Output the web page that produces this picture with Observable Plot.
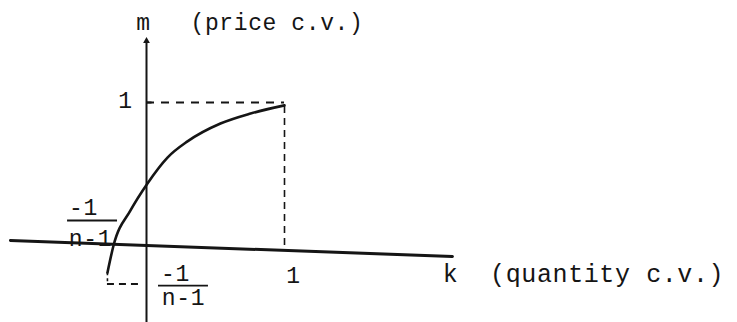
<!DOCTYPE html>
<html><head><meta charset="utf-8">
<script src="https://cdn.jsdelivr.net/npm/d3@7"></script>
<script src="https://cdn.jsdelivr.net/npm/@observablehq/plot@0.6"></script>
<style>body{margin:0;background:#fff}</style>
</head><body><div id="chart"></div>
<script>
// curve m(k): price c.v. vs quantity c.v.
const curveK = [-0.283, -0.239, -0.116, 0.007, 0.152, 0.297, 0.536, 0.754, 1.0];
const curveM = [-0.19, 0.0, 0.245, 0.434, 0.615, 0.728, 0.853, 0.923, 0.98];
// axes (the scanned horizontal axis is slightly tilted)
const xAxisK = [-0.986, 2.217];
const xAxisM = [0.035, -0.077];
const yAxisM = [-0.54, 1.43];
// reference levels
const one = 1;
const negInv = -0.27;     // -1/(n-1) level
const negInvK = -0.283;   // -1/(n-1) on k
// labels
const labels = [
  {k: -0.022, m: 1.56, t: "m", a: "middle", s: 23},
  {k: 0.319, m: 1.56, t: "(price c.v.)", a: "start", s: 23},
  {k: -0.152, m: 1.01, t: "1", a: "middle", s: 23},
  {k: 1.065, m: -0.21, t: "1", a: "middle", s: 23},
  {k: 2.203, m: -0.2, t: "k", a: "middle", s: 25},
  {k: 2.49, m: -0.2, t: "(quantity c.v.)", a: "start", s: 25},
  {k: -0.457, m: 0.266, t: "-1", a: "middle", s: 23},
  {k: -0.406, m: 0.049, t: "n-1", a: "middle", s: 23},
  {k: 0.21, m: -0.196, t: "-1", a: "middle", s: 23},
  {k: 0.268, m: -0.364, t: "n-1", a: "middle", s: 23}
];
const fracBars = [
  {k1: -0.572, k2: -0.21, m: 0.175},
  {k1: 0.087, k2: 0.449, m: -0.28}
];

const curve = curveK.map((k, i) => ({k, m: curveM[i]}));
const xAxis = xAxisK.map((k, i) => ({k, m: xAxisM[i]}));
const ink = "#151515";

const chart = Plot.plot({
  width: 737, height: 322,
  margin: 0,
  x: {domain: [-146/138, (737-146)/138], axis: null},
  y: {domain: [-77/143, 245/143], axis: null},
  style: {background: "#fff", letterSpacing: "0.6px", fontFamily: "'Liberation Mono', 'DejaVu Sans Mono', monospace"},
  marks: [
    Plot.line(xAxis, {x: "k", y: "m", stroke: ink, strokeWidth: 3}),
    Plot.ruleX([0], {y1: yAxisM[0], y2: yAxisM[1], stroke: ink, strokeWidth: 2}),
    Plot.dot([{k: 0, m: yAxisM[1]}], {x: "k", y: "m", symbol: "triangle", r: 2.5, fill: ink, stroke: null}),
    // dashed guides
    Plot.ruleY([one], {x1: 0, x2: one, stroke: ink, strokeWidth: 2, strokeDasharray: "8,7"}),
    Plot.ruleX([one], {y1: 0, y2: one, stroke: ink, strokeWidth: 1.6, strokeDasharray: "7,5"}),
    Plot.ruleX([negInvK], {y1: curveM[0], y2: negInv, stroke: ink, strokeWidth: 1.6, strokeDasharray: "3,3"}),
    Plot.ruleY([negInv], {x1: negInvK, x2: -0.05, stroke: ink, strokeWidth: 2, strokeDasharray: "7,5"}),
    // tick at m=1
    Plot.ruleY([one], {x1: 0, x2: 0.04, stroke: ink, strokeWidth: 2}),
    // curve
    Plot.line(curve, {x: "k", y: "m", curve: "monotone-x", stroke: ink, strokeWidth: 2.6}),
    // fraction bars
    Plot.ruleY(fracBars, {x1: "k1", x2: "k2", y: "m", stroke: ink, strokeWidth: 1.8}),
    // labels
    Plot.text(labels.filter(d => d.a === "middle"), {x: "k", y: "m", text: "t", textAnchor: "middle", fontSize: d => d.s, fill: ink}),
    Plot.text(labels.filter(d => d.a === "start"), {x: "k", y: "m", text: "t", textAnchor: "start", fontSize: d => d.s, fill: ink})
  ]
});
document.getElementById("chart").append(chart);
</script>
</body></html>
